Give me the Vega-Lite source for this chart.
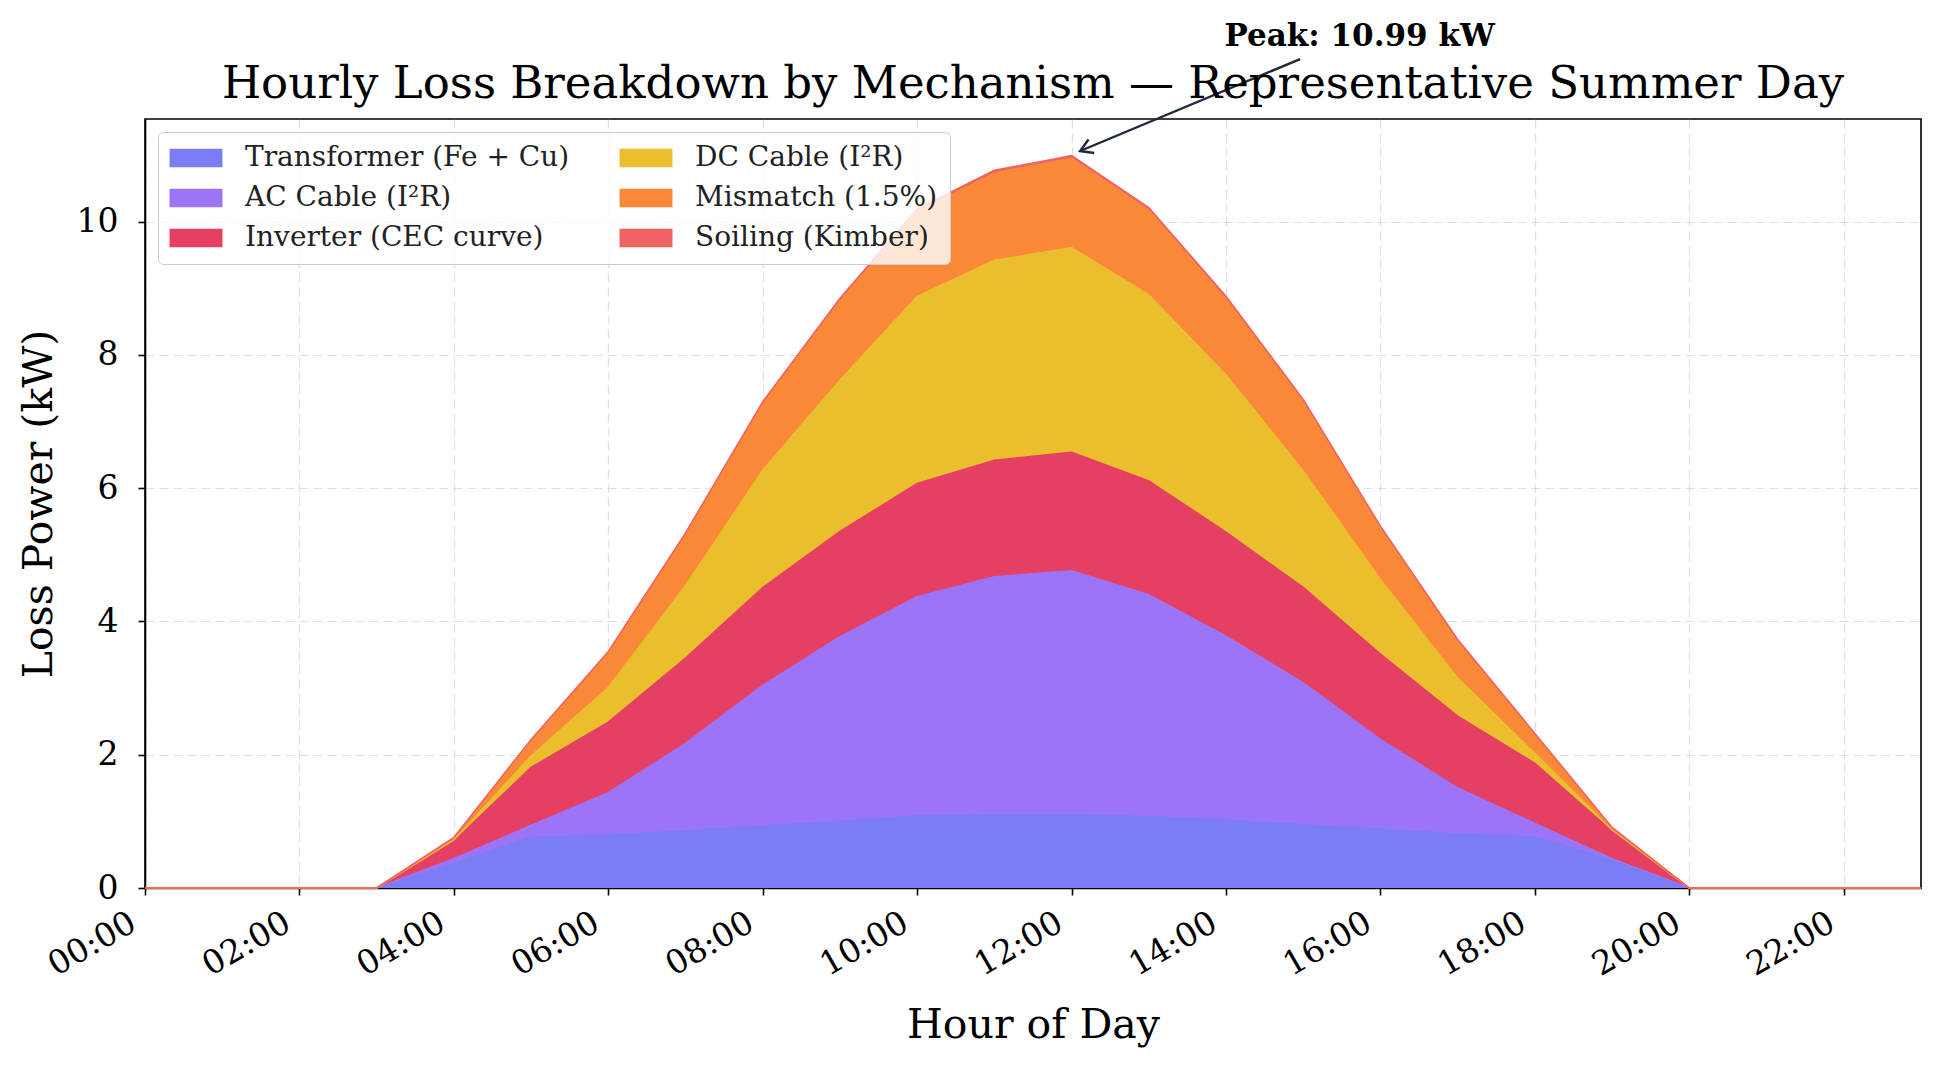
{
  "$schema": "https://vega.github.io/schema/vega-lite/v6.json",
  "width": 1776,
  "height": 769,
  "autosize": {"type": "none"},
  "padding": {"left": 145, "top": 119, "right": 20, "bottom": 177},
  "background": "white",
  "config": {
    "font": "DejaVu Serif",
    "view": {"stroke": "#000000", "strokeWidth": 1.6},
    "axis": {
      "domainColor": "#000000",
      "domainWidth": 1.6,
      "tickColor": "#000000",
      "tickSize": 7,
      "tickWidth": 1.6,
      "labelFont": "DejaVu Serif",
      "labelFontSize": 33,
      "labelColor": "#000000",
      "titleFont": "DejaVu Serif",
      "titleFontSize": 41,
      "titleFontWeight": "normal",
      "titleColor": "#000000",
      "gridColor": "#b0b0b0",
      "gridOpacity": 0.4,
      "gridDash": [9, 5],
      "gridWidth": 1.2,
      "zindex": 1
    }
  },
  "title": {
    "text": "Hourly Loss Breakdown by Mechanism — Representative Summer Day",
    "font": "DejaVu Serif",
    "fontSize": 45,
    "fontWeight": "normal",
    "color": "#000000",
    "anchor": "middle",
    "offset": -86
  },
  "datasets": {
    "losses": [
      {"hour": 0, "transformer": 0, "ac": 0, "inverter": 0, "dc": 0, "mismatch": 0, "soiling": 0},
      {"hour": 1, "transformer": 0, "ac": 0, "inverter": 0, "dc": 0, "mismatch": 0, "soiling": 0},
      {"hour": 2, "transformer": 0, "ac": 0, "inverter": 0, "dc": 0, "mismatch": 0, "soiling": 0},
      {"hour": 3, "transformer": 0, "ac": 0, "inverter": 0, "dc": 0, "mismatch": 0, "soiling": 0},
      {"hour": 4, "transformer": 0.37, "ac": 0.07, "inverter": 0.26, "dc": 0.02, "mismatch": 0.03, "soiling": 0.01},
      {"hour": 5, "transformer": 0.76, "ac": 0.18, "inverter": 0.87, "dc": 0.17, "mismatch": 0.23, "soiling": 0.02},
      {"hour": 6, "transformer": 0.79, "ac": 0.64, "inverter": 1.06, "dc": 0.52, "mismatch": 0.51, "soiling": 0.03},
      {"hour": 7, "transformer": 0.86, "ac": 1.31, "inverter": 1.28, "dc": 1.09, "mismatch": 0.76, "soiling": 0.03},
      {"hour": 8, "transformer": 0.93, "ac": 2.11, "inverter": 1.47, "dc": 1.76, "mismatch": 1.0, "soiling": 0.03},
      {"hour": 9, "transformer": 1.0, "ac": 2.77, "inverter": 1.58, "dc": 2.27, "mismatch": 1.19, "soiling": 0.04},
      {"hour": 10, "transformer": 1.08, "ac": 3.29, "inverter": 1.7, "dc": 2.81, "mismatch": 1.27, "soiling": 0.04},
      {"hour": 11, "transformer": 1.1, "ac": 3.57, "inverter": 1.75, "dc": 3.0, "mismatch": 1.31, "soiling": 0.04},
      {"hour": 12, "transformer": 1.1, "ac": 3.66, "inverter": 1.78, "dc": 3.07, "mismatch": 1.34, "soiling": 0.04},
      {"hour": 13, "transformer": 1.07, "ac": 3.33, "inverter": 1.71, "dc": 2.79, "mismatch": 1.27, "soiling": 0.04},
      {"hour": 14, "transformer": 1.02, "ac": 2.76, "inverter": 1.56, "dc": 2.36, "mismatch": 1.14, "soiling": 0.04},
      {"hour": 15, "transformer": 0.95, "ac": 2.13, "inverter": 1.43, "dc": 1.75, "mismatch": 1.04, "soiling": 0.03},
      {"hour": 16, "transformer": 0.88, "ac": 1.35, "inverter": 1.28, "dc": 1.12, "mismatch": 0.77, "soiling": 0.03},
      {"hour": 17, "transformer": 0.81, "ac": 0.69, "inverter": 1.08, "dc": 0.57, "mismatch": 0.55, "soiling": 0.03},
      {"hour": 18, "transformer": 0.77, "ac": 0.2, "inverter": 0.9, "dc": 0.15, "mismatch": 0.28, "soiling": 0.02},
      {"hour": 19, "transformer": 0.42, "ac": 0.02, "inverter": 0.41, "dc": 0.02, "mismatch": 0.03, "soiling": 0.01},
      {"hour": 20, "transformer": 0, "ac": 0, "inverter": 0, "dc": 0, "mismatch": 0, "soiling": 0},
      {"hour": 21, "transformer": 0, "ac": 0, "inverter": 0, "dc": 0, "mismatch": 0, "soiling": 0},
      {"hour": 22, "transformer": 0, "ac": 0, "inverter": 0, "dc": 0, "mismatch": 0, "soiling": 0},
      {"hour": 23, "transformer": 0, "ac": 0, "inverter": 0, "dc": 0, "mismatch": 0, "soiling": 0}
    ],
    "peak": [
      {"hour": 14.96, "kw": 12.44, "hour2": 12.11, "kw2": 11.06, "label": "Peak: 10.99 kW", "texthour": 15.73, "textkw": 12.77}
    ]
  },
  "layer": [
    {
      "data": {"name": "losses"},
      "transform": [
        {"fold": ["transformer", "ac", "inverter", "dc", "mismatch", "soiling"], "as": ["key", "kw"]},
        {"calculate": "indexof(['transformer','ac','inverter','dc','mismatch','soiling'], datum.key)", "as": "layer"},
        {"calculate": "{'transformer': 'Transformer (Fe + Cu)', 'ac': 'AC Cable (I²R)', 'inverter': 'Inverter (CEC curve)', 'dc': 'DC Cable (I²R)', 'mismatch': 'Mismatch (1.5%)', 'soiling': 'Soiling (Kimber)'}[datum.key]", "as": "mechanism"}
      ],
      "mark": {"type": "area", "interpolate": "linear", "opacity": 1, "line": {"strokeWidth": 1.5}},
      "encoding": {
        "x": {
          "field": "hour",
          "type": "quantitative",
          "scale": {"domain": [0, 23], "nice": false},
          "axis": {
            "values": [0, 2, 4, 6, 8, 10, 12, 14, 16, 18, 20, 22],
            "labelExpr": "(datum.value < 10 ? '0' : '') + datum.value + ':00'",
            "labelAngle": -30,
            "labelAlign": "right",
            "labelBaseline": "top",
            "labelPadding": 11,
            "labelOffset": -20,
            "title": "Hour of Day",
            "titlePadding": 23
          }
        },
        "y": {
          "field": "kw",
          "type": "quantitative",
          "stack": "zero",
          "scale": {"domain": [0, 11.54], "nice": false},
          "axis": {
            "values": [0, 2, 4, 6, 8, 10],
            "format": "d",
            "title": "Loss Power (kW)",
            "labelPadding": 20,
            "titlePadding": 16
          }
        },
        "color": {
          "field": "mechanism",
          "type": "nominal",
          "scale": {
            "domain": ["Transformer (Fe + Cu)", "AC Cable (I²R)", "Inverter (CEC curve)", "DC Cable (I²R)", "Mismatch (1.5%)", "Soiling (Kimber)"],
            "range": ["#7a7df3", "#9c74f7", "#e53f63", "#ebbe2e", "#f98839", "#f06262"]
          },
          "legend": {
            "title": null,
            "orient": "top-left",
            "offset": 13,
            "columns": 2,
            "symbolType": "M-2,-0.7H2V0.7H-2Z",
            "symbolSize": 700,
            "symbolOffset": 12,
            "symbolStrokeWidth": 0,
            "symbolOpacity": 1,
            "labelFont": "DejaVu Serif",
            "labelFontSize": 28,
            "labelColor": "#222222",
            "labelOffset": 35,
            "labelLimit": 500,
            "columnPadding": 49,
            "rowPadding": 12,
            "fillColor": "rgba(255,255,255,0.8)",
            "strokeColor": "#cccccc",
            "cornerRadius": 5,
            "padding": 12
          }
        },
        "order": {"field": "layer", "type": "quantitative"}
      }
    },
    {
      "data": {"name": "peak"},
      "mark": {"type": "rule", "color": "#1e293b", "strokeWidth": 2.4},
      "encoding": {
        "x": {"field": "hour", "type": "quantitative", "title": "Hour of Day"},
        "y": {"field": "kw", "type": "quantitative", "title": "Loss Power (kW)"},
        "x2": {"field": "hour2"},
        "y2": {"field": "kw2"}
      }
    },
    {
      "data": {"name": "peak"},
      "mark": {"type": "point", "shape": "M-1,-0.6L0,0L-1,0.6", "angle": 157, "filled": false, "size": 600, "stroke": "#1e293b", "strokeWidth": 2.4, "opacity": 1},
      "encoding": {
        "x": {"field": "hour2", "type": "quantitative", "title": "Hour of Day"},
        "y": {"field": "kw2", "type": "quantitative", "title": "Loss Power (kW)"}
      }
    },
    {
      "data": {"name": "peak"},
      "mark": {"type": "text", "font": "DejaVu Serif", "fontSize": 31, "fontWeight": "bold", "color": "#000000", "align": "center", "baseline": "middle"},
      "encoding": {
        "x": {"field": "texthour", "type": "quantitative", "title": "Hour of Day"},
        "y": {"field": "textkw", "type": "quantitative", "title": "Loss Power (kW)"},
        "text": {"field": "label"}
      }
    }
  ]
}
